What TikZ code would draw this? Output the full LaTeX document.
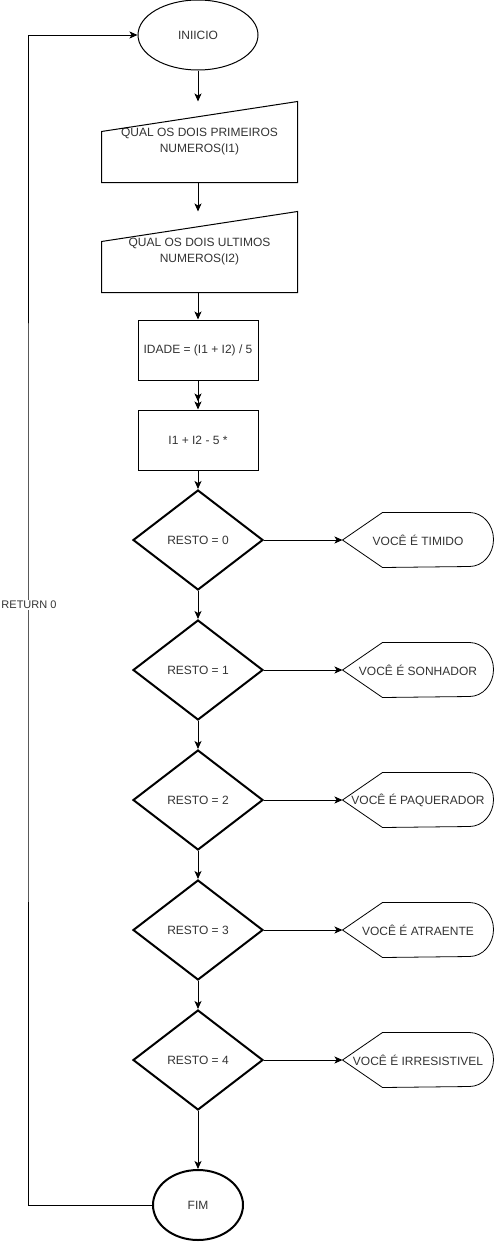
\documentclass[tikz,border=0pt]{standalone}
\usepackage{fontspec}
\setmainfont{Liberation Sans}
\usetikzlibrary{positioning,arrows.meta,shapes.geometric}

% manual input: slanted top edge
\newcommand\manualin[1]{%
  \draw (#1.south west) -- ([yshift=-30pt]#1.north west) -- (#1.north east) -- (#1.south east) -- cycle;}
% display: pointed left end, rounded right end
\newcommand\dispbox[1]{%
  \draw[line width=.8pt] (#1.west) -- ([xshift=40pt]#1.north west) -- ([xshift=-24pt]#1.north east)
    arc[start angle=90,end angle=-90,x radius=24pt,y radius=27pt] -- ([xshift=40pt]#1.south west) -- cycle;}

\begin{document}
\begin{tikzpicture}[x=1pt,y=-1pt,line width=1pt,
    font=\fontsize{12}{16}\selectfont,
    every node/.style={text=black!80},
    arr/.style={-{Stealth[length=8pt,width=7pt,inset=2pt]}},
    term/.style={draw=black,ellipse,minimum width=120pt,minimum height=70pt,inner sep=0pt},
    iobox/.style={minimum width=195pt,minimum height=80pt,inner sep=0pt,align=center},
    procbox/.style={draw=black,rectangle,minimum width=120pt,minimum height=60pt,inner sep=0pt},
    decision/.style={draw=black,diamond,line width=2pt,minimum width=130pt,minimum height=100pt,inner sep=0pt},
    outbox/.style={minimum width=150pt,minimum height=54pt,inner sep=0pt}]
    \useasboundingbox (0,0) rectangle (494,1242);

    \node[term] (ini) at (198,35) {INIICIO};
    \node[iobox] (q1) at (199.5,142) {QUAL OS DOIS PRIMEIROS\\NUMEROS(I1)};
    \manualin{q1}
    \node[iobox] (q2) at (199.5,252) {QUAL OS DOIS ULTIMOS\\NUMEROS(I2)};
    \manualin{q2}
    \node[procbox] (idade) at (198,350) {IDADE = (I1 + I2) / 5};
    \node[procbox] (conta) at (198,440) {I1 + I2 - 5 *};

    \foreach \i/\txt in {0/TIMIDO,1/SONHADOR,2/PAQUERADOR,3/ATRAENTE,4/IRRESISTIVEL}{
        \node[decision] (c\i) at (198,540+130*\i) {RESTO = \i};
        \node[outbox] (d\i) at (418,540+130*\i) {VOCÊ É \txt};
        \dispbox{d\i}
        \draw[arr] (c\i.east) -- (d\i.west);
    }
    \node[term,line width=2pt,minimum width=90pt] (fim) at (198,1205) {FIM};

    \draw[arr] (ini) -- (ini |- q1.north);
    \draw[arr] (q1.south -| ini) -- (q2.north -| ini);
    \draw[arr] (q2.south -| idade) -- (idade);
    \draw[-{Stealth[length=8pt,width=7pt,inset=2pt] Stealth[length=8pt,width=7pt,inset=2pt]}] (idade) -- (conta);
    \draw[arr] (conta) -- (c0);
    \draw[arr] (c0) -- (c1);
    \draw[arr] (c1) -- (c2);
    \draw[arr] (c2) -- (c3);
    \draw[arr] (c3) -- (c4);
    \draw[arr] (c4) -- (fim);

    \coordinate (ret) at (28,605);
    \draw[arr] (fim.west) -| (ret) |- (ini.west);
    \node[fill=white,inner sep=1pt,font=\fontsize{11}{13}\selectfont] (retlbl) at (29,605) {RETURN 0};
\end{tikzpicture}
\end{document}
